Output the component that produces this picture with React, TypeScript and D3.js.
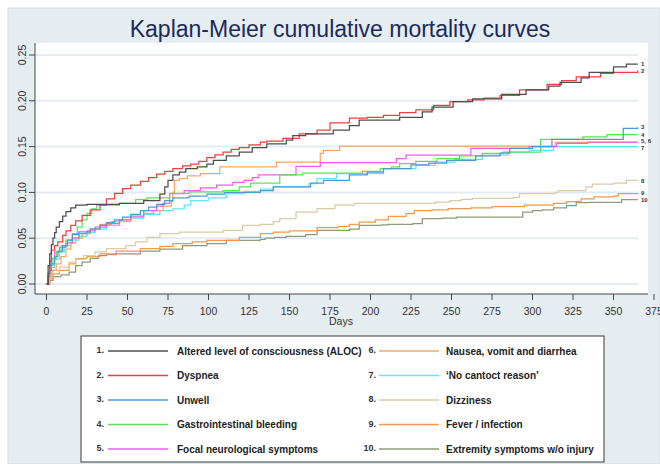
import React from "react";
import * as d3 from "d3";

// ---------- data ----------
const xTickValues = [0, 25, 50, 75, 100, 125, 150, 175, 200, 225, 250, 275, 300, 325, 350, 375];
const yTickValues = [0, 0.05, 0.1, 0.15, 0.2, 0.25];

const seriesNumbers = ["1.", "2.", "3.", "4.", "5.", "6.", "7.", "8.", "9.", "10."];
const seriesNames = [
  "Altered level of consciousness (ALOC)",
  "Dyspnea",
  "Unwell",
  "Gastrointestinal bleeding",
  "Focal neurological symptoms",
  "Nausea, vomit and diarrhea",
  "\u2018No cantoct reason\u2019",
  "Dizziness",
  "Fever / infection",
  "Extremity symptoms w/o injury",
];
const endLabels = ["1", "2", "3", "4", "5, 6", "", "7", "8", "9", "10"];
const seriesColors = [
  "#4d4d4d",
  "#ec4040",
  "#4b9bd2",
  "#5fe05a",
  "#f05cef",
  "#f5a764",
  "#5de6f2",
  "#dacaa6",
  "#ef9a4c",
  "#8d9c76",
];

const alocDays = [0, 1, 2, 3, 4, 5, 6, 8, 10, 12, 15, 18, 25, 45, 60, 70, 73, 75, 78, 82, 86, 93, 99, 103, 111, 119, 127, 136, 148, 152, 160, 177, 187, 193, 218, 232, 238, 251, 263, 281, 296, 310, 317, 330, 335, 350, 358, 365];
const alocRisk = [0, 0.02, 0.033, 0.043, 0.05, 0.056, 0.062, 0.068, 0.074, 0.079, 0.083, 0.086, 0.087, 0.088, 0.091, 0.098, 0.106, 0.113, 0.119, 0.122, 0.126, 0.128, 0.131, 0.135, 0.14, 0.144, 0.149, 0.153, 0.157, 0.162, 0.164, 0.168, 0.173, 0.179, 0.182, 0.188, 0.193, 0.199, 0.202, 0.207, 0.212, 0.216, 0.22, 0.225, 0.231, 0.237, 0.24, 0.24];

const dyspDays = [0, 1, 2, 3, 5, 7, 10, 12, 15, 18, 22, 27, 33, 37, 42, 47, 52, 58, 63, 68, 73, 78, 84, 89, 94, 99, 104, 109, 114, 119, 125, 132, 136, 146, 156, 167, 175, 187, 198, 208, 218, 228, 239, 249, 260, 270, 280, 292, 309, 318, 327, 342, 350, 365];
const dyspRisk = [0, 0.012, 0.025, 0.037, 0.042, 0.046, 0.053, 0.058, 0.064, 0.069, 0.075, 0.081, 0.086, 0.093, 0.099, 0.104, 0.108, 0.112, 0.116, 0.12, 0.123, 0.126, 0.129, 0.131, 0.134, 0.138, 0.141, 0.144, 0.147, 0.149, 0.152, 0.155, 0.156, 0.159, 0.164, 0.168, 0.176, 0.181, 0.182, 0.184, 0.187, 0.19, 0.195, 0.199, 0.201, 0.203, 0.206, 0.212, 0.218, 0.222, 0.226, 0.23, 0.231, 0.233];

const unwellDays = [0, 1, 2, 3, 5, 7, 10, 13, 16, 20, 27, 33, 37, 42, 47, 52, 58, 63, 68, 73, 78, 88, 99, 110, 132, 140, 163, 171, 187, 198, 208, 225, 236, 247, 265, 280, 286, 300, 312, 356, 365];
const unwellRisk = [0, 0.008, 0.015, 0.022, 0.03, 0.036, 0.042, 0.048, 0.054, 0.057, 0.06, 0.064, 0.067, 0.07, 0.073, 0.076, 0.08, 0.084, 0.087, 0.091, 0.094, 0.096, 0.098, 0.1, 0.102, 0.106, 0.11, 0.113, 0.119, 0.122, 0.126, 0.13, 0.132, 0.135, 0.14, 0.143, 0.148, 0.15, 0.158, 0.17, 0.171];

const giDays = [0, 1, 2, 4, 6, 9, 12, 16, 19, 22, 25, 28, 31, 45, 55, 62, 76, 88, 109, 119, 126, 144, 158, 195, 206, 213, 218, 228, 241, 255, 269, 282, 305, 331, 346, 365];
const giRisk = [0, 0.01, 0.02, 0.028, 0.035, 0.042, 0.048, 0.055, 0.062, 0.07, 0.077, 0.082, 0.086, 0.088, 0.092, 0.094, 0.099, 0.1005, 0.102, 0.106, 0.11, 0.119, 0.121, 0.123, 0.126, 0.128, 0.1315, 0.134, 0.137, 0.14, 0.1425, 0.144, 0.158, 0.1606, 0.163, 0.163];

const focalDays = [0, 1, 2, 3, 5, 8, 12, 16, 20, 25, 30, 37, 45, 52, 60, 68, 72, 76, 85, 95, 105, 115, 122, 127, 131, 154, 169, 216, 222, 262, 298, 315, 334, 365];
const focalRisk = [0, 0.01, 0.02, 0.028, 0.035, 0.04, 0.045, 0.05, 0.055, 0.058, 0.062, 0.066, 0.07, 0.074, 0.08, 0.085, 0.088, 0.0987, 0.102, 0.105, 0.108, 0.111, 0.113, 0.116, 0.119, 0.1285, 0.1326, 0.137, 0.1406, 0.148, 0.15, 0.1534, 0.155, 0.155];

const nauseaDays = [0, 2, 4, 6, 9, 12, 15, 18, 22, 27, 33, 40, 45, 52, 60, 66, 72, 77, 78, 79, 82, 87, 95, 107, 142, 169, 171, 181, 314, 365];
const nauseaRisk = [0, 0.008, 0.015, 0.022, 0.03, 0.038, 0.045, 0.05, 0.055, 0.06, 0.065, 0.068, 0.07, 0.073, 0.077, 0.08, 0.085, 0.09, 0.1, 0.113, 0.115, 0.118, 0.1206, 0.128, 0.133, 0.1425, 0.146, 0.1504, 0.1545, 0.1545];

const noContactDays = [0, 1, 3, 5, 8, 11, 15, 20, 25, 30, 37, 45, 52, 60, 70, 78, 85, 89, 100, 111, 122, 132, 140, 162, 167, 179, 208, 228, 240, 252, 269, 285, 298, 313, 365];
const noContactRisk = [0, 0.008, 0.018, 0.027, 0.035, 0.042, 0.048, 0.052, 0.056, 0.06, 0.064, 0.068, 0.072, 0.076, 0.08, 0.082, 0.086, 0.091, 0.094, 0.0987, 0.101, 0.1035, 0.106, 0.1096, 0.115, 0.1206, 0.126, 0.1296, 0.133, 0.136, 0.1406, 0.144, 0.146, 0.15, 0.15];

const dizzDays = [0, 1, 3, 8, 14, 18, 23, 30, 37, 49, 55, 62, 70, 82, 109, 121, 132, 140, 144, 154, 167, 178, 190, 240, 249, 256, 263, 288, 292, 314, 316, 333, 337, 350, 358, 365];
const dizzRisk = [0, 0.005, 0.0148, 0.0184, 0.024, 0.027, 0.031, 0.035, 0.0385, 0.042, 0.046, 0.051, 0.055, 0.0567, 0.0585, 0.064, 0.065, 0.068, 0.0713, 0.0786, 0.0823, 0.086, 0.088, 0.0895, 0.091, 0.0925, 0.0935, 0.0947, 0.0987, 0.1, 0.102, 0.106, 0.109, 0.11, 0.113, 0.113];

const feverDays = [0, 2, 4, 8, 14, 18, 25, 33, 43, 58, 70, 78, 90, 99, 119, 132, 140, 150, 167, 180, 187, 193, 203, 211, 222, 227, 238, 248, 262, 275, 295, 313, 321, 330, 338, 350, 353, 365];
const feverRisk = [0, 0.006, 0.011, 0.0148, 0.022, 0.0276, 0.03, 0.033, 0.036, 0.0385, 0.041, 0.044, 0.046, 0.0476, 0.051, 0.055, 0.0565, 0.058, 0.0615, 0.063, 0.065, 0.0676, 0.07, 0.0738, 0.0768, 0.08, 0.081, 0.0823, 0.083, 0.0845, 0.086, 0.088, 0.09, 0.093, 0.095, 0.096, 0.0987, 0.099];

const extremDays = [0, 2, 4, 9, 14, 18, 22, 27, 32, 37, 43, 58, 70, 84, 99, 111, 132, 135, 141, 148, 160, 167, 187, 193, 207, 211, 226, 232, 244, 253, 294, 300, 306, 313, 321, 327, 335, 355, 365];
const extremRisk = [0, 0.004, 0.008, 0.01, 0.013, 0.02, 0.024, 0.028, 0.031, 0.032, 0.033, 0.036, 0.038, 0.042, 0.044, 0.0476, 0.0487, 0.05, 0.051, 0.052, 0.054, 0.0585, 0.06, 0.064, 0.0645, 0.065, 0.066, 0.0713, 0.072, 0.073, 0.0786, 0.08, 0.081, 0.083, 0.0855, 0.0888, 0.089, 0.092, 0.092];

const seriesDays = [alocDays, dyspDays, unwellDays, giDays, focalDays, nauseaDays, noContactDays, dizzDays, feverDays, extremDays];
const seriesRisk = [alocRisk, dyspRisk, unwellRisk, giRisk, focalRisk, nauseaRisk, noContactRisk, dizzRisk, feverRisk, extremRisk];

// ---------- component ----------
export default function App() {
  const W = 660;
  const H = 464;
  const x = d3.scaleLinear().domain([0, 375]).range([46.5, 654]);
  const y = d3.scaleLinear().domain([0, 0.25]).range([284, 55]);
  const plotLeft = 35;
  const plotRight = 648;
  const plotTop = 43;
  const plotBottom = 294;
  const font = "Arial, 'Liberation Sans', Helvetica, sans-serif";

  const line = d3
    .line<[number, number]>()
    .x((d) => x(d[0]))
    .y((d) => y(d[1]))
    .curve(d3.curveStepAfter);

  const fmt = d3.format(".2f");
  const order = d3.range(seriesDays.length).reverse();
  // small vertical nudges so the crowded end labels do not collide
  const labelNudge = [0, 0, 0, 0, -0.8, 0, 1.6, 0, 0, 0.4];

  const legendTop = 351;
  const legendStep = 24.5;

  return (
    <svg
      width={W}
      height={H}
      style={{ position: "absolute", left: 0, top: 0, display: "block" }}
      fontFamily={font}
    >
      <rect x={0} y={0} width={W} height={H} fill="#ffffff" />
      <rect x={8} y={8} width={W - 8} height={H - 8} fill="#e5edf0" stroke="#d3dbde" strokeWidth={1} />
      <text x={340} y={37} textAnchor="middle" fontSize={23} fill="#1b2a5c">
        Kaplan-Meier cumulative mortality curves
      </text>

      {/* plot region */}
      <rect x={plotLeft} y={plotTop} width={plotRight - plotLeft} height={plotBottom - plotTop} fill="#ffffff" />
      {yTickValues.map((t) => (
        <line key={"g" + t} x1={plotLeft + 1} x2={638} y1={y(t)} y2={y(t)} stroke="#e5ebf2" strokeWidth={2} />
      ))}

      {/* series */}
      {order.map((i) => {
        const pts = seriesDays[i].map((d, k) => [d, seriesRisk[i][k]] as [number, number]);
        return (
          <path key={"s" + i} d={line(pts) || ""} fill="none" stroke={seriesColors[i]} strokeWidth={1.25} />
        );
      })}

      {/* end labels */}
      {seriesDays.map((days, i) =>
        endLabels[i] ? (
          <text
            key={"e" + i}
            x={641}
            y={y(seriesRisk[i][seriesRisk[i].length - 1]) + labelNudge[i]}
            dy="0.35em"
            fontSize={6}
            fontWeight="bold"
            fill="#333"
          >
            {endLabels[i]}
          </text>
        ) : null
      )}

      {/* y axis */}
      <line x1={plotLeft} x2={plotLeft} y1={plotTop} y2={plotBottom} stroke="#444" strokeWidth={1} />
      {yTickValues.map((t) => (
        <g key={"yt" + t}>
          <line x1={plotLeft - 6} x2={plotLeft} y1={y(t)} y2={y(t)} stroke="#444" strokeWidth={1} />
          <text
            transform={`translate(25.5, ${y(t)}) rotate(-90)`}
            textAnchor="middle"
            fontSize={10.5}
            fill="#333"
          >
            {fmt(t)}
          </text>
        </g>
      ))}

      {/* x axis */}
      <line x1={plotLeft} x2={plotRight} y1={plotBottom} y2={plotBottom} stroke="#444" strokeWidth={1} />
      {xTickValues.map((t) => (
        <g key={"xt" + t}>
          <line x1={x(t)} x2={x(t)} y1={plotBottom} y2={plotBottom + 6} stroke="#444" strokeWidth={1} />
          <text x={x(t)} y={315} textAnchor="middle" fontSize={10.5} fill="#333">
            {t}
          </text>
        </g>
      ))}
      <text x={341} y={325} textAnchor="middle" fontSize={10.5} fill="#333">
        Days
      </text>

      {/* legend */}
      <rect x={81} y={336} width={523} height={126} fill="#ffffff" stroke="#5a5a5a" strokeWidth={1.2} />
      {seriesNames.map((name, i) => {
        const col = i < 5 ? 0 : 1;
        const row = i % 5;
        const ly = legendTop + row * legendStep;
        const numX = col === 0 ? 104 : 376;
        const l1 = col === 0 ? 108 : 379;
        const l2 = col === 0 ? 168 : 439;
        const tx = col === 0 ? 177 : 446;
        return (
          <g key={"lg" + i}>
            <text x={numX} y={ly + 2} textAnchor="end" fontSize={9} fontWeight="bold" fill="#333">
              {seriesNumbers[i]}
            </text>
            <line x1={l1} x2={l2} y1={ly} y2={ly} stroke={seriesColors[i]} strokeWidth={1.3} />
            <text x={tx} y={ly + 3.6} fontSize={10} fontWeight="bold" fill="#222">
              {name}
            </text>
          </g>
        );
      })}
    </svg>
  );
}
